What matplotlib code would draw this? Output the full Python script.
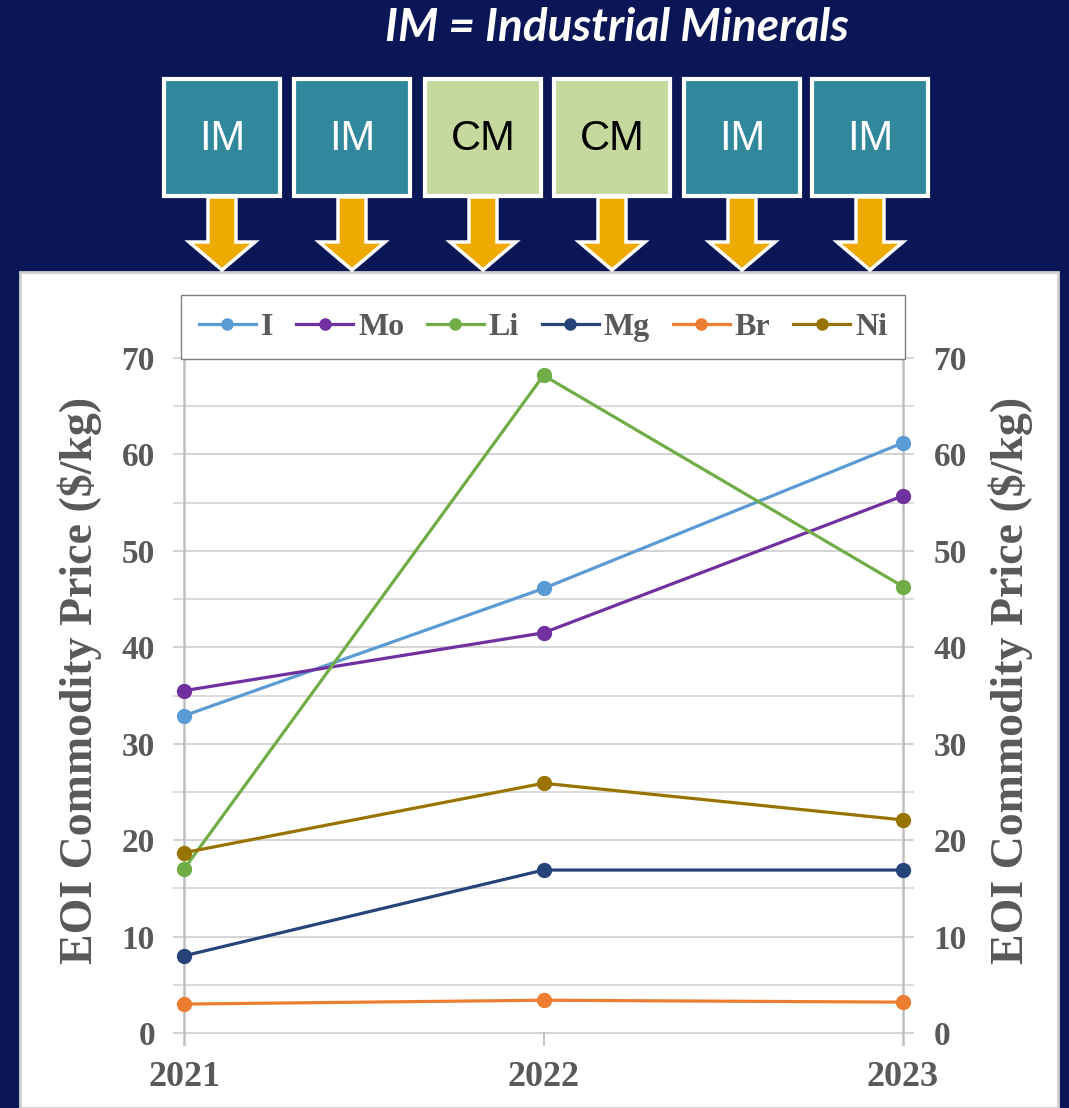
import numpy as np
import matplotlib.pyplot as plt
from matplotlib.patches import Rectangle, Polygon

W, H = 1069, 1108

years = [2021, 2022, 2023]
series_names = ["I", "Mo", "Li", "Mg", "Br", "Ni"]
price_i = [32.9, 46.1, 61.2]
price_mo = [35.5, 41.5, 55.7]
price_li = [17.0, 68.2, 46.3]
price_mg = [8.0, 16.9, 16.9]
price_br = [3.0, 3.4, 3.2]
price_ni = [18.7, 25.9, 22.1]
series_colors = ["#5b9bd5", "#7030a0", "#70ad47", "#264478", "#ed7d31", "#997300"]

box_labels = ["IM", "IM", "CM", "CM", "IM", "IM"]
box_centers = [222, 352, 483, 612, 742, 870]

navy = "#0b1657"
teal = "#31879b"
sage = "#c5d89d"
gold = "#efaa00"
grey_txt = "#595959"

fig = plt.figure(figsize=(W / 100, H / 100), dpi=100, facecolor=navy)

# background layer in pixel coordinates
bg = fig.add_axes([0, 0, 1, 1])
bg.set_xlim(0, W)
bg.set_ylim(H, 0)
bg.axis("off")

bg.add_patch(Rectangle((20, 272), 1038, H - 272, facecolor="white",
                       edgecolor="#d0d0d0", lw=2, zorder=1))

bg.text(617, 28, "IM = Industrial Minerals", color="white", fontsize=33,
        fontweight="bold", fontstyle="italic", family="Lato",
        ha="center", va="center")

for cx, lab in zip(box_centers, box_labels):
    fc = teal if lab == "IM" else sage
    tc = "white" if lab == "IM" else "black"
    bg.add_patch(Rectangle((cx - 58, 79), 116, 117, facecolor=fc,
                           edgecolor="white", lw=3, zorder=2))
    bg.text(cx, 139, lab, color=tc, fontsize=30, family="Liberation Sans",
            ha="center", va="center", zorder=3)
    arrow = [(cx - 14, 197), (cx + 14, 197), (cx + 14, 242), (cx + 33, 242),
             (cx, 270), (cx - 33, 242), (cx - 14, 242)]
    bg.add_patch(Polygon(arrow, closed=True, facecolor=gold,
                         edgecolor="white", lw=2.5, zorder=4))

# chart axes
x_left, x_right = 184, 903
y0_px, y70_px = 1033, 358
per_year = (x_right - x_left) / 2
per_unit = (y0_px - y70_px) / 70
xpad = 11 / per_year
ylo, yhi = -1.3, 72
ax_l = x_left - xpad * per_year
ax_r = x_right + xpad * per_year
ax_b = y0_px - ylo * per_unit
ax_t = y0_px - yhi * per_unit
ax = fig.add_axes([ax_l / W, 1 - ax_b / H, (ax_r - ax_l) / W, (ax_b - ax_t) / H])
ax.set_facecolor("none")
ax.set_xlim(2021 - xpad, 2023 + xpad)
ax.set_ylim(ylo, yhi)
for s in ax.spines.values():
    s.set_visible(False)

for v in range(0, 75, 5):
    ax.axhline(v, color="#d9d9d9" if v % 10 else "#d0d0d0", lw=1.3, zorder=1)
for yr in (2021, 2023):
    ax.axvline(yr, ymin=0, ymax=(70 - ylo) / (yhi - ylo), color="#bfbfbf",
               lw=1.8, zorder=1)
ax.plot([2022, 2022], [ylo, 0], color="#bfbfbf", lw=1.3, zorder=1)

all_prices = [price_i, price_mo, price_li, price_mg, price_br, price_ni]
for name, vals, col in zip(series_names, all_prices, series_colors):
    ax.plot(years, vals, color=col, lw=2.3, marker="o", markersize=10,
            label=name, zorder=3, clip_on=False)

ax.set_xticks(years)
ax.set_xticklabels([str(y) for y in years])
ax.set_yticks(range(0, 80, 10))
ax.tick_params(axis="both", length=0, labelcolor=grey_txt)
ax.tick_params(axis="y", pad=13, labelsize=24)
ax.tick_params(axis="x", pad=11, labelsize=26)
for t in ax.get_xticklabels() + ax.get_yticklabels():
    t.set_family("Liberation Serif")
    t.set_fontweight("bold")

ax2 = ax.twinx()
ax2.set_ylim(ylo, yhi)
ax2.set_yticks(range(0, 80, 10))
ax2.tick_params(axis="y", length=0, pad=14, labelsize=24, labelcolor=grey_txt)
for s in ax2.spines.values():
    s.set_visible(False)
for t in ax2.get_yticklabels():
    t.set_family("Liberation Serif")
    t.set_fontweight("bold")

ylab = "EOI Commodity Price ($/kg)"
for xpos in (80, 1011):
    fig.text(xpos / W, 1 - 680 / H, ylab, rotation=90, ha="center",
             va="center", fontsize=33, fontweight="bold",
             family="Liberation Serif", color=grey_txt)

leg = ax.legend(loc="center", bbox_to_anchor=(543 / W, 1 - 327 / H),
                bbox_transform=fig.transFigure, ncol=6, frameon=True,
                fancybox=False, edgecolor="#7f7f7f", framealpha=1,
                handlelength=1.8, handletextpad=0.15, columnspacing=0.7,
                borderpad=0.55, prop={"family": "Liberation Serif",
                                      "weight": "bold", "size": 23},
                markerscale=0.8)
for t in leg.get_texts():
    t.set_color(grey_txt)

fig.savefig("out.png", dpi=100, facecolor=navy)
